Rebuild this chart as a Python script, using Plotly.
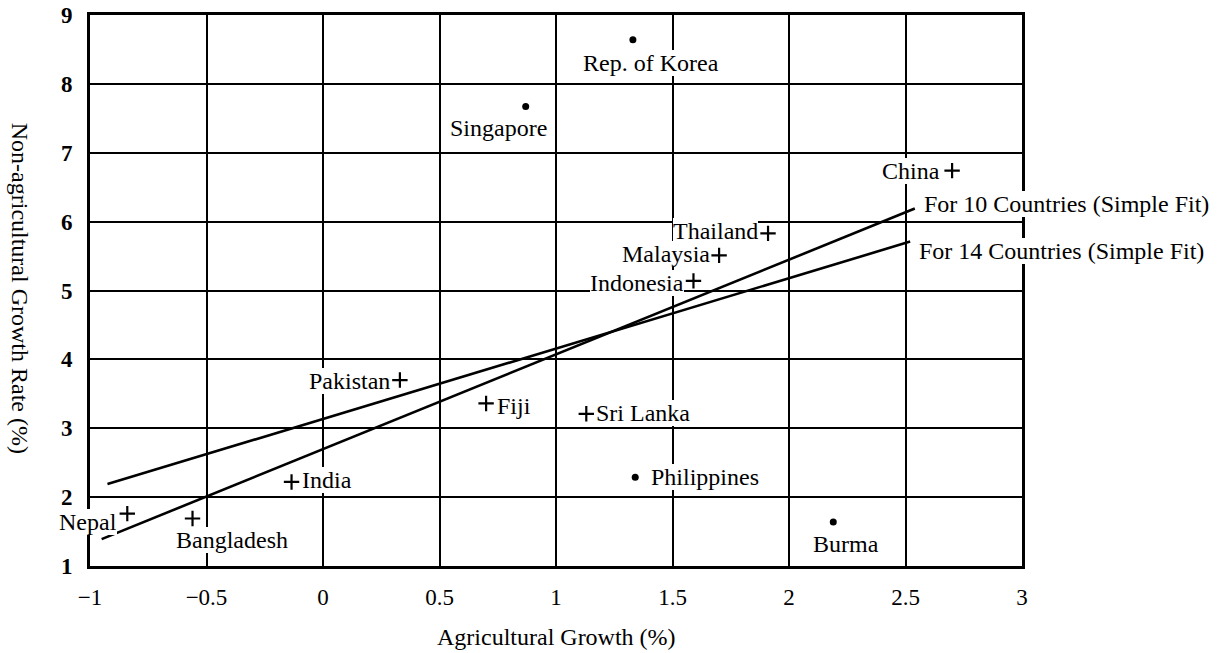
import plotly.graph_objects as go

# ---- data ----
countries = ["Rep. of Korea", "Singapore", "China", "Thailand", "Malaysia", "Indonesia",
             "Pakistan", "Fiji", "Sri Lanka", "Philippines", "India", "Nepal",
             "Bangladesh", "Burma"]
agri_growth = [1.33, 0.87, 2.70, 1.91, 1.70, 1.59, 0.33, 0.70, 1.13, 1.34, -0.135, -0.84, -0.56, 2.19]
nonagri_growth = [8.64, 7.67, 6.74, 5.83, 5.51, 5.14, 3.70, 3.36, 3.21, 2.29, 2.22, 1.76, 1.69, 1.64]
in_fit_10 = [False, False, True, True, True, True, True, True, True, False, True, True, True, False]

fit10_x = [-0.95, 2.54]
fit10_y = [1.39, 6.19]
fit14_x = [-0.925, 2.52]
fit14_y = [2.19, 5.71]
fit_labels = ["For 10 Countries (Simple Fit)", "For 14 Countries (Simple Fit)"]

x_ticks = [-1, -0.5, 0, 0.5, 1, 1.5, 2, 2.5, 3]
y_ticks = [1, 2, 3, 4, 5, 6, 7, 8, 9]

# ---- label placement (style only) ----
label_style = {
    "Rep. of Korea": ("center", 18, -23),
    "Singapore": ("center", -27, -21),
    "China": ("right", -12, 0),
    "Thailand": ("right", -10, 2),
    "Malaysia": ("right", -9, 1),
    "Indonesia": ("right", -9, -2),
    "Pakistan": ("right", -10, -1),
    "Nepal": ("right", -10, -8),
    "Fiji": ("left", 11, -3),
    "Sri Lanka": ("left", 10, 1),
    "Philippines": ("left", 16, 0),
    "India": ("left", 10, 2),
    "Bangladesh": ("center", 39, -22),
    "Burma": ("center", 13, -22),
}

FONT = "Liberation Serif, Times New Roman, serif"
FS = 24

fig = go.Figure()

fig.add_trace(go.Scatter(x=fit10_x, y=fit10_y, mode="lines",
                         line=dict(color="black", width=2.6), hoverinfo="skip"))
fig.add_trace(go.Scatter(x=fit14_x, y=fit14_y, mode="lines",
                         line=dict(color="black", width=2.6), hoverinfo="skip"))

px_ = [a for a, f in zip(agri_growth, in_fit_10) if f]
py_ = [b for b, f in zip(nonagri_growth, in_fit_10) if f]
dx_ = [a for a, f in zip(agri_growth, in_fit_10) if not f]
dy_ = [b for b, f in zip(nonagri_growth, in_fit_10) if not f]

fig.add_trace(go.Scatter(x=px_, y=py_, mode="markers",
                         marker=dict(symbol="cross-thin", size=11,
                                     line=dict(color="black", width=2.2), color="black")))
fig.add_trace(go.Scatter(x=dx_, y=dy_, mode="markers",
                         marker=dict(symbol="circle", size=7, color="black")))

annotations = []
for name, xv, yv in zip(countries, agri_growth, nonagri_growth):
    anchor, xs, ys = label_style[name]
    annotations.append(dict(x=xv, y=yv, xref="x", yref="y", text=name, showarrow=False,
                            xanchor=anchor, yanchor="middle", xshift=xs, yshift=ys,
                            font=dict(family=FONT, size=FS, color="black"),
                            bgcolor="white", borderpad=0, borderwidth=0))

annotations.append(dict(x=fit10_x[-1], y=fit10_y[-1], xref="x", yref="y", text=fit_labels[0],
                        showarrow=False, xanchor="left", yanchor="middle", xshift=9, yshift=5,
                        font=dict(family=FONT, size=FS, color="black"),
                        bgcolor="white", borderpad=0, borderwidth=0))
annotations.append(dict(x=fit14_x[-1], y=fit14_y[-1], xref="x", yref="y", text=fit_labels[1],
                        showarrow=False, xanchor="left", yanchor="middle", xshift=9, yshift=-9,
                        font=dict(family=FONT, size=FS, color="black"),
                        bgcolor="white", borderpad=0, borderwidth=0))

# axis titles
annotations.append(dict(x=0.5, y=0, xref="paper", yref="paper", text="Agricultural Growth (%)",
                        showarrow=False, xanchor="center", yanchor="middle", yshift=-71,
                        font=dict(family=FONT, size=FS, color="black")))
annotations.append(dict(x=0, y=0.505, xref="paper", yref="paper",
                        text="Non-agricultural Growth Rate (%)", textangle=90,
                        showarrow=False, xanchor="center", yanchor="middle", xshift=-70,
                        font=dict(family=FONT, size=FS, color="black")))

fig.update_layout(
    width=1230, height=653,
    margin=dict(l=90, r=208, t=15, b=87),
    paper_bgcolor="white", plot_bgcolor="white",
    showlegend=False,
    annotations=annotations,
    font=dict(family=FONT, size=FS, color="black"),
)
fig.update_xaxes(range=[-1, 3], tickvals=x_ticks, ticktext=[f"{v:g}".replace("-", "\u2212") for v in x_ticks],
                 showgrid=True, gridcolor="black", gridwidth=2.4, zeroline=False,
                 showline=True, linecolor="black", linewidth=3, mirror=True,
                 ticks="", ticklabelstandoff=8, automargin=False,
                 tickfont=dict(family=FONT, size=23, color="black"))
fig.update_yaxes(range=[1, 9], tickvals=y_ticks,
                 showgrid=True, gridcolor="black", gridwidth=2.4, zeroline=False,
                 showline=True, linecolor="black", linewidth=3, mirror=True,
                 ticks="", ticklabelstandoff=10, automargin=False,
                 tickfont=dict(family=FONT, size=23, color="black", weight="bold"))

fig.write_html("out.html", config={"displayModeBar": False},
               post_script="document.body.style.margin='0px';")
